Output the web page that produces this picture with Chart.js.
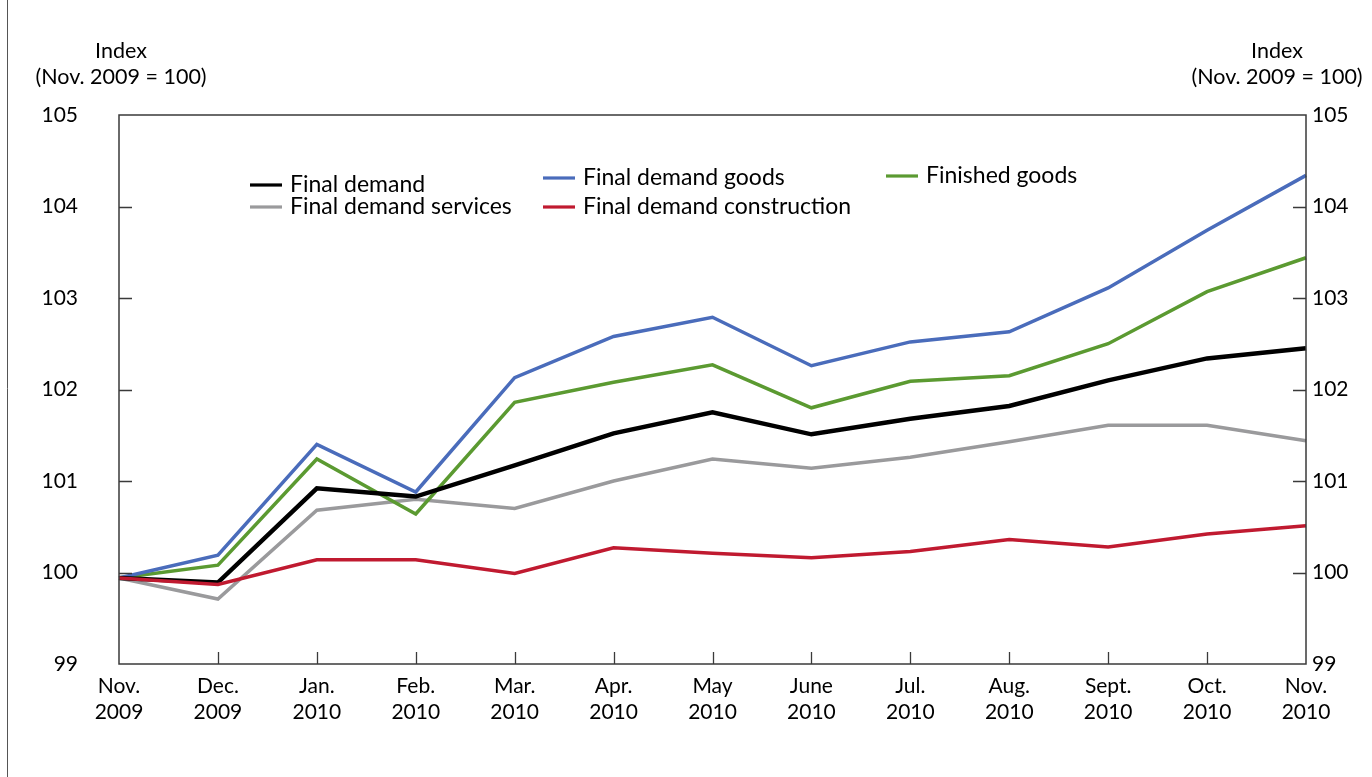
<!DOCTYPE html>
<html>
<head>
<meta charset="utf-8">
<script src="https://cdn.jsdelivr.net/npm/chart.js@4"></script>
<style>
  html, body { margin: 0; padding: 0; background: #fff; }
  #wrap { width: 1372px; height: 777px; position: relative; }
</style>
</head>
<body>
<div id="wrap"><canvas id="c" width="1372" height="777"></canvas></div>
<script>
const categories = [["Nov.","2009"],["Dec.","2009"],["Jan.","2010"],["Feb.","2010"],["Mar.","2010"],["Apr.","2010"],["May","2010"],["June","2010"],["Jul.","2010"],["Aug.","2010"],["Sept.","2010"],["Oct.","2010"],["Nov.","2010"]];
const finalDemand        = [99.94, 99.89, 100.92, 100.83, 101.17, 101.52, 101.75, 101.51, 101.68, 101.82, 102.10, 102.34, 102.45];
const finalDemandGoods   = [99.94, 100.19, 101.40, 100.88, 102.13, 102.58, 102.79, 102.26, 102.52, 102.63, 103.11, 103.74, 104.34];
const finishedGoods      = [99.94, 100.08, 101.24, 100.64, 101.86, 102.08, 102.27, 101.80, 102.09, 102.15, 102.50, 103.07, 103.44];
const finalDemandServices= [99.94, 99.71, 100.68, 100.80, 100.70, 101.00, 101.24, 101.14, 101.26, 101.43, 101.61, 101.61, 101.44];
const finalDemandConstr  = [99.94, 99.87, 100.14, 100.14, 99.99, 100.27, 100.21, 100.16, 100.23, 100.36, 100.28, 100.42, 100.51];
const yTicks = [99, 100, 101, 102, 103, 104, 105];
const axisTitle = ["Index", "(Nov. 2009 = 100)"];

const FONT = "Lato, 'Open Sans', sans-serif";
const C = {
  black: "#000000",
  blue: "#4a6cbb",
  green: "#5b9a31",
  gray: "#9a9a9c",
  red: "#c01a30",
  frame: "#3a3a3a"
};

const legendItems = [
  { label: "Final demand", color: C.black, x: 250, y: 185 },
  { label: "Final demand services", color: C.gray, x: 250, y: 207 },
  { label: "Final demand goods", color: C.blue, x: 543, y: 178 },
  { label: "Final demand construction", color: C.red, x: 543, y: 207 },
  { label: "Finished goods", color: C.green, x: 886, y: 176 }
];

const decor = {
  id: "decor",
  afterDraw(chart) {
    const ctx = chart.ctx;
    const a = chart.chartArea;
    const x = chart.scales.x, y = chart.scales.y;
    ctx.save();
    // outer left border
    ctx.strokeStyle = "#555";
    ctx.lineWidth = 1;
    ctx.beginPath(); ctx.moveTo(7.5, 0); ctx.lineTo(7.5, 777); ctx.stroke();
    // frame
    ctx.strokeStyle = C.frame;
    ctx.lineWidth = 1.5;
    ctx.strokeRect(a.left, a.top, a.right - a.left, a.bottom - a.top);
    // inward ticks
    ctx.lineWidth = 1.3;
    ctx.beginPath();
    yTicks.forEach(v => {
      if (v === 99 || v === 105) return;
      const py = Math.round(y.getPixelForValue(v)) + 0.5;
      ctx.moveTo(a.left, py); ctx.lineTo(a.left + 13, py);
      ctx.moveTo(a.right, py); ctx.lineTo(a.right - 13, py);
    });
    for (let i = 1; i < categories.length - 1; i++) {
      const px = Math.round(x.getPixelForValue(i)) + 0.5;
      ctx.moveTo(px, a.bottom); ctx.lineTo(px, a.bottom - 12);
    }
    ctx.stroke();
    // axis titles
    ctx.fillStyle = "#000";
    ctx.font = "21.5px " + FONT;
    ctx.textAlign = "center";
    ctx.textBaseline = "middle";
    ctx.fillText(axisTitle[0], 121, 51);
    ctx.fillText(axisTitle[1], 121, 77);
    ctx.fillText(axisTitle[0], 1277, 51);
    ctx.fillText(axisTitle[1], 1277, 77);
    // legend
    ctx.font = "23px " + FONT;
    ctx.textAlign = "left";
    legendItems.forEach(it => {
      ctx.strokeStyle = it.color;
      ctx.lineWidth = 3.2;
      ctx.beginPath(); ctx.moveTo(it.x, it.y); ctx.lineTo(it.x + 32, it.y); ctx.stroke();
      ctx.fillText(it.label, it.x + 40, it.y);
    });
    ctx.restore();
  }
};

const mk = (label, data, color, width, order) => ({
  label, data, borderColor: color, backgroundColor: color,
  borderWidth: width, pointRadius: 0, tension: 0, fill: false, order,
  borderJoinStyle: "miter"
});

new Chart(document.getElementById("c"), {
  type: "line",
  data: {
    labels: categories,
    datasets: [
      mk("Final demand services", finalDemandServices, C.gray, 3.5, 5),
      mk("Finished goods", finishedGoods, C.green, 3.5, 4),
      mk("Final demand goods", finalDemandGoods, C.blue, 3.5, 3),
      mk("Final demand", finalDemand, C.black, 4.5, 2),
      mk("Final demand construction", finalDemandConstr, C.red, 3.5, 1)
    ]
  },
  options: {
    responsive: false,
    animation: false,
    devicePixelRatio: 1,
    layout: { padding: { top: 115, left: 0, right: 0, bottom: 0 } },
    plugins: { legend: { display: false }, tooltip: { enabled: false }, title: { display: false } },
    scales: {
      x: {
        type: "category",
        offset: false,
        grid: { display: false, drawTicks: false },
        border: { display: false },
        ticks: { autoSkip: false, maxRotation: 0, minRotation: 0, padding: 9, color: "#000",
                 font: { family: FONT, size: 21, lineHeight: 1.25 } },
        afterFit(s) { s.height = 113; }
      },
      y: {
        position: "left",
        min: 99, max: 105,
        grid: { display: false, drawTicks: false },
        border: { display: false },
        afterBuildTicks(s) { s.ticks = yTicks.map(v => ({ value: v })); },
        ticks: { padding: 41, color: "#000", font: { family: FONT, size: 21 } },
        afterFit(s) { s.width = 119; }
      },
      y2: {
        position: "right",
        min: 99, max: 105,
        grid: { display: false, drawTicks: false },
        border: { display: false },
        afterBuildTicks(s) { s.ticks = yTicks.map(v => ({ value: v })); },
        ticks: { padding: 6, color: "#000", font: { family: FONT, size: 21 } },
        afterFit(s) { s.width = 66; }
      }
    }
  },
  plugins: [decor]
});
</script>
</body>
</html>
